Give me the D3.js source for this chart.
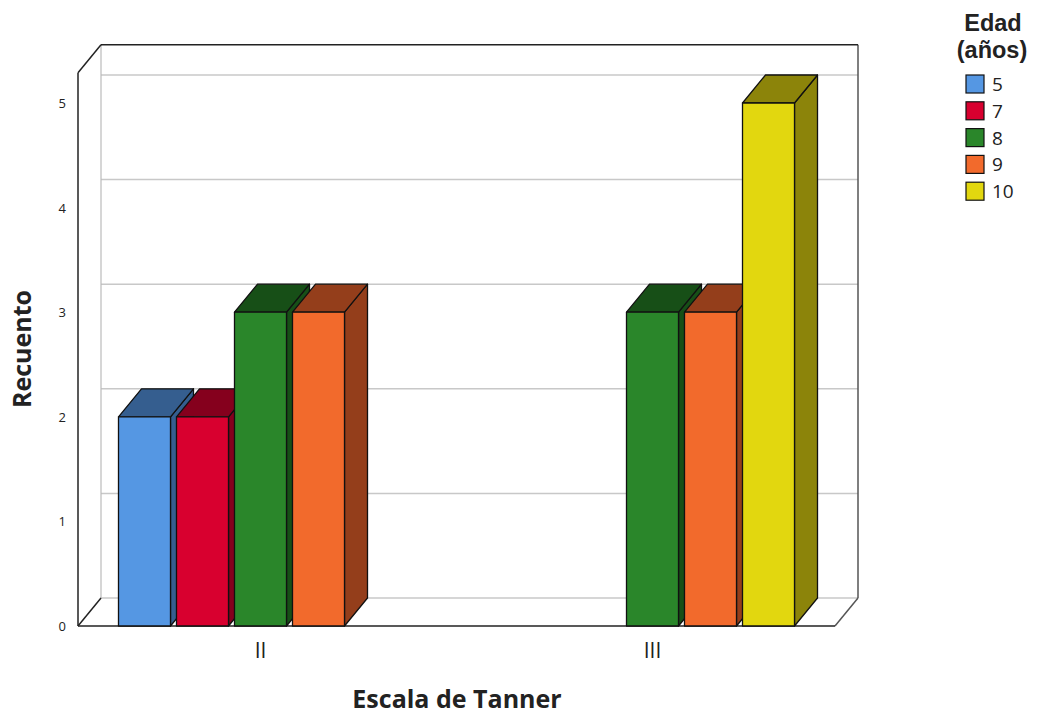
<!DOCTYPE html>
<html>
<head>
<meta charset="utf-8">
<script src="https://cdn.jsdelivr.net/npm/d3@7/dist/d3.min.js"></script>
<style>
  html, body { margin: 0; padding: 0; background: #fff; }
  svg { display: block; font-family: "Open Sans", "DejaVu Sans", sans-serif; }
</style>
</head>
<body>
<svg id="chart" width="1037" height="717"></svg>
<script>
// Tanner stage counts by age group
const categories = ["II", "III"];
const ages = ["5", "7", "8", "9", "10"];
const countsII  = [2, 2, 3, 3, null];
const countsIII = [null, null, 3, 3, 5];
const yTicks = [0, 1, 2, 3, 4, 5];
const faceColors = ["#5597e3", "#d8002f", "#2a862a", "#f26a2c", "#e2d70f"];
const shadeColors = ["#355e8f", "#85001d", "#174f17", "#943e1b", "#8c840a"];

const valuesByCategory = { "II": countsII, "III": countsIII };

const svg = d3.select("#chart");

// Front plane and depth offset of the 3D box
const left = 78, right = 835, bottom = 626;
const dx = 23, dy = -28;
const yMaxBox = 5.29;

const x = d3.scaleBand().domain(categories).range([left, right])
  .paddingInner(0.2755).paddingOuter(0.1033);
const xs = d3.scaleBand().domain(ages).range([0, x.bandwidth()])
  .paddingInner(0.1034).paddingOuter(0);
const y = d3.scaleLinear().domain([0, 5]).range([bottom, 103]);

const topY = y(yMaxBox);

// Back wall gridlines
svg.append("g").selectAll("line").data(yTicks).join("line")
  .attr("x1", left + dx).attr("x2", right + dx)
  .attr("y1", d => y(d) + dy).attr("y2", d => y(d) + dy)
  .attr("stroke", "#c8c8c8").attr("stroke-width", 1.5);

// Box frame
const frame = svg.append("g").attr("fill", "none");
frame.append("line").attr("x1", left + dx).attr("x2", left + dx)
  .attr("y1", topY + dy).attr("y2", bottom + dy).attr("stroke", "#bbb").attr("stroke-width", 1.2);
frame.append("line").attr("x1", right + dx).attr("x2", right + dx)
  .attr("y1", topY + dy).attr("y2", bottom + dy).attr("stroke", "#555").attr("stroke-width", 1.5);
frame.append("line").attr("x1", right).attr("x2", right + dx)
  .attr("y1", bottom).attr("y2", bottom + dy).attr("stroke", "#555").attr("stroke-width", 1.5);
frame.append("line").attr("x1", left + dx).attr("x2", right + dx)
  .attr("y1", topY + dy).attr("y2", topY + dy).attr("stroke", "#222").attr("stroke-width", 1.5);
frame.append("line").attr("x1", left).attr("x2", left + dx)
  .attr("y1", topY).attr("y2", topY + dy).attr("stroke", "#222").attr("stroke-width", 1.5);
frame.append("line").attr("x1", left).attr("x2", left + dx)
  .attr("y1", bottom).attr("y2", bottom + dy).attr("stroke", "#222").attr("stroke-width", 1.5);

// Bars: side, top and front faces, drawn left to right
const bars = [];
categories.forEach(c => {
  valuesByCategory[c].forEach((v, i) => {
    if (v != null) bars.push({ cat: c, age: ages[i], i, v });
  });
});

const barG = svg.append("g").attr("stroke", "#111").attr("stroke-width", 1.3)
  .attr("stroke-linejoin", "round");
bars.forEach(b => {
  const x0 = x(b.cat) + xs(b.age);
  const x1 = x0 + xs.bandwidth();
  const yt = y(b.v);
  const g = barG.append("g");
  g.append("path")
    .attr("d", `M${x1},${yt}L${x1 + dx},${yt + dy}L${x1 + dx},${bottom + dy}L${x1},${bottom}Z`)
    .attr("fill", shadeColors[b.i]);
  g.append("path")
    .attr("d", `M${x0},${yt}L${x0 + dx},${yt + dy}L${x1 + dx},${yt + dy}L${x1},${yt}Z`)
    .attr("fill", shadeColors[b.i]);
  g.append("rect")
    .attr("x", x0).attr("y", yt).attr("width", xs.bandwidth()).attr("height", bottom - yt)
    .attr("fill", faceColors[b.i]);
});

// Front edges of the box
frame.append("line").attr("x1", left).attr("x2", left)
  .attr("y1", topY).attr("y2", bottom).attr("stroke", "#222").attr("stroke-width", 1.5);
frame.append("line").attr("x1", left).attr("x2", right)
  .attr("y1", bottom).attr("y2", bottom).attr("stroke", "#222").attr("stroke-width", 1.5);

// Y tick labels
svg.append("g").selectAll("text").data(yTicks).join("text")
  .attr("x", 66).attr("y", d => y(d) + 5)
  .attr("text-anchor", "end").attr("font-size", 13).attr("fill", "#222")
  .text(d => d);

// Category labels
svg.append("g").selectAll("text").data(categories).join("text")
  .attr("x", d => x(d) + x.bandwidth() / 2).attr("y", 658)
  .attr("text-anchor", "middle").attr("font-size", 21).attr("fill", "#222")
  .text(d => d);

// Axis titles
svg.append("text").attr("x", 457).attr("y", 708).attr("text-anchor", "middle")
  .attr("font-size", 25).attr("font-weight", "bold").attr("fill", "#222")
  .text("Escala de Tanner");
svg.append("text").attr("transform", "translate(31,349) rotate(-90)")
  .attr("text-anchor", "middle").attr("font-size", 25).attr("font-weight", "bold").attr("fill", "#222")
  .text("Recuento");

// Legend
const legend = svg.append("g");
const legendTitle = legend.append("g").attr("text-anchor", "middle")
  .style("font-family", "'Liberation Sans', Arial, sans-serif")
  .attr("font-size", 23.5).attr("font-weight", "bold").attr("fill", "#222");
legendTitle.append("text").attr("x", 993).attr("y", 31).text("Edad");
legendTitle.append("text").attr("x", 992).attr("y", 57.5).text("(años)");
const items = legend.selectAll("g.item").data(ages).join("g").attr("class", "item")
  .attr("transform", (d, i) => `translate(966,${75 + i * 26.8})`);
items.append("rect").attr("width", 18).attr("height", 18)
  .attr("fill", (d, i) => faceColors[i]).attr("stroke", "#111").attr("stroke-width", 1.2);
items.append("text").attr("x", 26).attr("y", 16).attr("font-size", 19).attr("fill", "#222")
  .text(d => d);
</script>
</body>
</html>
